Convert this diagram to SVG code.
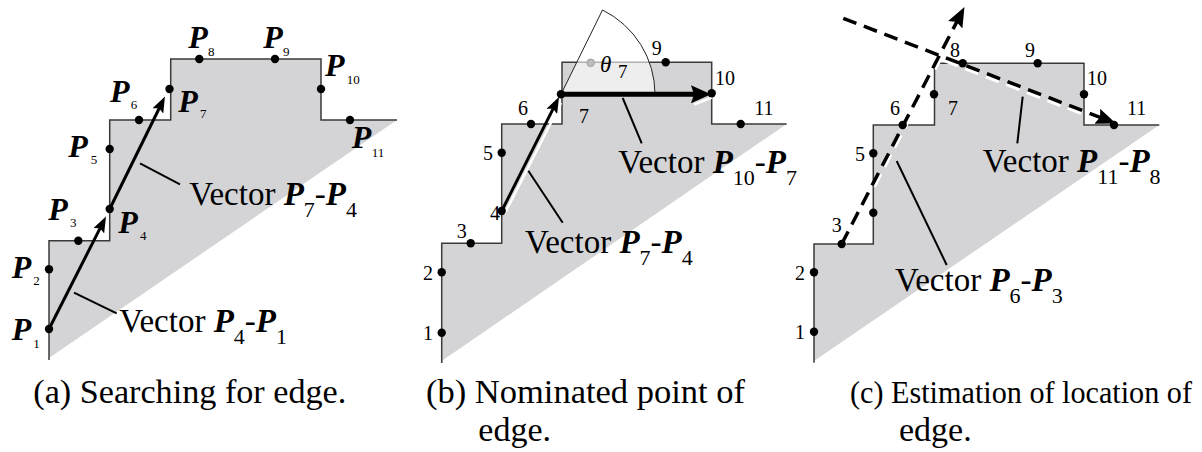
<svg xmlns="http://www.w3.org/2000/svg" width="1202" height="452" viewBox="0 0 1202 452" font-family="Liberation Serif, Times New Roman, serif">
<style>
.fill{fill:#d4d4d6;stroke:none}
.outl{fill:none;stroke:#3a3a3a;stroke-width:1.5}
.dot{fill:#000}
.lead{stroke:#000;stroke-width:2;fill:none}
.arr{stroke:#000;stroke-width:3;fill:none}
.arrb{stroke:#000;stroke-width:5;fill:none}
.hl{stroke:#fff;stroke-width:2.5;fill:none}
.dash{stroke:#000;stroke-width:3.5;fill:none;stroke-dasharray:14 8}
.dashw{stroke:#fff;stroke-width:3.5;fill:none;stroke-dasharray:14 8}
.t{font-family:'Liberation Serif','Times New Roman',serif;fill:#000}
.bi{font-weight:bold;font-style:italic}
.pl{font-size:32px;font-weight:bold;font-style:italic}
.ps{font-size:13px}
.num{font-size:20px;text-anchor:middle}
.vec{font-size:33px}
.vs{font-size:22px}
.cap{font-size:34px}
</style>
<defs>
<marker id="ah" markerUnits="userSpaceOnUse" markerWidth="18" markerHeight="12" refX="10" refY="6" orient="auto"><path d="M0,0 L16,6 L0,12 L3,6 Z" fill="#000"/></marker>
<marker id="ahb" markerUnits="userSpaceOnUse" markerWidth="21" markerHeight="18" refX="12" refY="9" orient="auto"><path d="M0,0 L20,9 L0,18 L3,9 Z" fill="#000"/></marker>
<marker id="ahd" markerUnits="userSpaceOnUse" markerWidth="21" markerHeight="16" refX="12" refY="8" orient="auto"><path d="M0,0 L20,8 L0,16 L3,8 Z" fill="#000"/></marker>
</defs>

<g id="panel-a-shape">
<path class="fill" d="M49,358 V240.7 H109.7 V120 H170.7 V59 H321 V120 H397 Z"/>
<path class="outl" d="M49,360 V240.7 H109.7 V120 H170.7 V59 H321 V120 H397"/>
</g>
<g id="panel-b-shape">
<path class="fill" d="M441.7,361 V243.3 H501.7 V124 H562 V62.3 H711.7 V124 H786.7 Z"/>
<path class="outl" d="M441.7,363 V243.3 H501.7 V124 H562 V62.3 H711.7 V124 H786.7"/>
<path id="sector-theta" d="M561,94.3 L602.5,10 A94,94 0 0 1 655,94.3 Z" fill="#fff" fill-opacity="0.6" stroke="#222" stroke-width="1"/>
</g>
<g id="panel-c-shape">
<path class="fill" d="M814,361 V244 H873.3 V125 H934.5 V63.3 H1084 V125 H1159.3 Z"/>
<path class="outl" d="M814,362.7 V244 H873.3 V125 H934.5 V63.3 H1084 V125 H1159.3"/>
</g>

<g id="connectors">
<line class="arr" x1="49" y1="329" x2="103.3" y2="221.9" marker-end="url(#ah)"/>
<line class="arr" x1="109.7" y1="209" x2="162.3" y2="102" marker-end="url(#ah)"/>
<line class="lead" x1="140" y1="163.3" x2="180" y2="184.3"/>
<line class="lead" x1="74" y1="292.7" x2="116.7" y2="313.3"/>
<line class="hl" x1="504.5" y1="214" x2="561" y2="103"/>
<line class="hl" x1="694" y1="104.5" x2="712" y2="97.5"/>
<line class="arr" x1="501.7" y1="211" x2="556.3" y2="102.4" marker-end="url(#ah)"/>
<line class="arrb" x1="561" y1="94.3" x2="703" y2="94.3" marker-end="url(#ahb)"/>
<line class="lead" x1="622.7" y1="98" x2="641.7" y2="143.3"/>
<line class="lead" x1="528.3" y1="170.7" x2="562.7" y2="222.7"/>
<line class="dashw" x1="842.2" y1="21.1" x2="1107.4" y2="123.4"/>
<line class="dashw" x1="843.9" y1="245.2" x2="963" y2="15.3"/>
<line class="dash" x1="843.3" y1="18.3" x2="1108.5" y2="120.6" marker-end="url(#ahd)"/>
<line class="dash" x1="841.7" y1="244" x2="960.8" y2="14.1" marker-end="url(#ahd)"/>
<line class="lead" x1="1022.7" y1="96.7" x2="1017.3" y2="143.3"/>
<line class="lead" x1="896.7" y1="161" x2="946.7" y2="265"/>
</g>

<g id="a-P1"><circle class="dot" cx="49" cy="329" r="4.2"/><text x="11.7" y="340" class="t pl">P</text><text x="33.3" y="348.3" class="t ps">1</text></g>
<g id="a-P2"><circle class="dot" cx="49" cy="269.3" r="4.2"/><text x="11.7" y="278.3" class="t pl">P</text><text x="33.3" y="285" class="t ps">2</text></g>
<g id="a-P3"><circle class="dot" cx="78.3" cy="240.7" r="4.2"/><text x="48.3" y="220" class="t pl">P</text><text x="70" y="227.3" class="t ps">3</text></g>
<g id="a-P4"><circle class="dot" cx="109.7" cy="209" r="4.2"/><text x="118.3" y="233.3" class="t pl">P</text><text x="140" y="240" class="t ps">4</text></g>
<g id="a-P5"><circle class="dot" cx="109.7" cy="149" r="4.2"/><text x="68.3" y="156.7" class="t pl">P</text><text x="90.7" y="164" class="t ps">5</text></g>
<g id="a-P6"><circle class="dot" cx="139" cy="120" r="4.2"/><text x="110" y="101.7" class="t pl">P</text><text x="130.7" y="109" class="t ps">6</text></g>
<g id="a-P7"><circle class="dot" cx="169.5" cy="89" r="4.2"/><text x="178.3" y="111.7" class="t pl">P</text><text x="200" y="118.3" class="t ps">7</text></g>
<g id="a-P8"><circle class="dot" cx="199.3" cy="59" r="4.2"/><text x="188.3" y="48.3" class="t pl">P</text><text x="208" y="56" class="t ps">8</text></g>
<g id="a-P9"><circle class="dot" cx="275" cy="59" r="4.2"/><text x="263.3" y="48" class="t pl">P</text><text x="283" y="56" class="t ps">9</text></g>
<g id="a-P10"><circle class="dot" cx="321" cy="89" r="4.2"/><text x="325" y="76" class="t pl">P</text><text x="346.7" y="84" class="t ps">10</text></g>
<g id="a-P11"><circle class="dot" cx="350" cy="120" r="4.2"/><text x="351.7" y="148.3" class="t pl">P</text><text x="371.7" y="157" class="t ps">11</text></g>

<g id="b-1"><circle class="dot" cx="441.7" cy="332.7" r="4.2"/><text x="428" y="339.5" class="t num">1</text></g>
<g id="b-2"><circle class="dot" cx="441.7" cy="272.3" r="4.2"/><text x="428" y="279.5" class="t num">2</text></g>
<g id="b-3"><circle class="dot" cx="470.7" cy="243.3" r="4.2"/><text x="461.7" y="238" class="t num">3</text></g>
<g id="b-4"><circle class="dot" cx="501.7" cy="211" r="4.2"/><text x="495" y="220" class="t num">4</text></g>
<g id="b-5"><circle class="dot" cx="501.7" cy="152.7" r="4.2"/><text x="488" y="159.5" class="t num">5</text></g>
<g id="b-6"><circle class="dot" cx="531" cy="124" r="4.2"/><text x="523" y="115" class="t num">6</text></g>
<g id="b-7"><circle class="dot" cx="561" cy="94.3" r="4.2"/><text x="584" y="123.3" class="t num">7</text></g>
<g id="b-8"><circle cx="590.7" cy="62.8" r="3.8" fill="#bdbdbd" stroke="#a0a0a0" stroke-width="1"/><text x="600" y="71.7" class="t" font-size="23" font-style="italic">θ</text><text x="618" y="78.3" class="t" font-size="19">7</text></g>
<g id="b-9"><circle class="dot" cx="665.7" cy="62.3" r="4.2"/><text x="656.7" y="55" class="t num">9</text></g>
<g id="b-10"><circle class="dot" cx="711.7" cy="93.3" r="4.2"/><text x="725" y="85" class="t num">10</text></g>
<g id="b-11"><circle class="dot" cx="740.7" cy="124" r="4.2"/><text x="764" y="115" class="t num">11</text></g>

<g id="c-1"><circle class="dot" cx="814" cy="331.7" r="4.2"/><text x="800" y="339" class="t num">1</text></g>
<g id="c-2"><circle class="dot" cx="814" cy="272.3" r="4.2"/><text x="800" y="279.5" class="t num">2</text></g>
<g id="c-3"><circle class="dot" cx="841.7" cy="244" r="4.2"/><text x="836.7" y="231.7" class="t num">3</text></g>
<g id="c-4"><circle class="dot" cx="873.3" cy="212.7" r="4.2"/></g>
<g id="c-5"><circle class="dot" cx="873.3" cy="153.3" r="4.2"/><text x="860" y="161" class="t num">5</text></g>
<g id="c-6"><circle class="dot" cx="902.7" cy="125" r="4.2"/><text x="895" y="115" class="t num">6</text></g>
<g id="c-7"><circle class="dot" cx="934" cy="94.3" r="4.2"/><text x="953" y="115" class="t num">7</text></g>
<g id="c-8"><circle class="dot" cx="962.7" cy="63.3" r="4.2"/><text x="955" y="56.7" class="t num">8</text></g>
<g id="c-9"><circle class="dot" cx="1037.7" cy="63.3" r="4.2"/><text x="1030" y="56.5" class="t num">9</text></g>
<g id="c-10"><circle class="dot" cx="1084" cy="94.3" r="4.2"/><text x="1097" y="85" class="t num">10</text></g>
<g id="c-11"><circle class="dot" cx="1114" cy="125" r="4.2"/><text x="1136.7" y="115" class="t num">11</text></g>

<g id="labels">
<text x="189.3" y="205" class="t vec">Vector <tspan class="bi">P</tspan><tspan class="vs" dy="12">7</tspan><tspan dy="-12">-</tspan><tspan class="bi">P</tspan><tspan class="vs" dy="12">4</tspan></text>
<text x="119.3" y="331.7" class="t vec">Vector <tspan class="bi">P</tspan><tspan class="vs" dy="12">4</tspan><tspan dy="-12">-</tspan><tspan class="bi">P</tspan><tspan class="vs" dy="12">1</tspan></text>
<text x="618.3" y="173.3" class="t vec">Vector <tspan class="bi">P</tspan><tspan class="vs" dy="12">10</tspan><tspan dy="-12">-</tspan><tspan class="bi">P</tspan><tspan class="vs" dy="12">7</tspan></text>
<text x="525" y="253.3" class="t vec">Vector <tspan class="bi">P</tspan><tspan class="vs" dy="12">7</tspan><tspan dy="-12">-</tspan><tspan class="bi">P</tspan><tspan class="vs" dy="12">4</tspan></text>
<text x="982.7" y="172" class="t vec">Vector <tspan class="bi">P</tspan><tspan class="vs" dy="12">11</tspan><tspan dy="-12">-</tspan><tspan class="bi">P</tspan><tspan class="vs" dy="12">8</tspan></text>
<text x="895" y="290.7" class="t vec">Vector <tspan class="bi">P</tspan><tspan class="vs" dy="12">6</tspan><tspan dy="-12">-</tspan><tspan class="bi">P</tspan><tspan class="vs" dy="12">3</tspan></text>
</g>

<g id="captions">
<text x="33.3" y="402.7" class="t cap" textLength="313" lengthAdjust="spacingAndGlyphs">(a) Searching for edge.</text>
<text x="426" y="402.7" class="t cap" textLength="319" lengthAdjust="spacingAndGlyphs">(b) Nominated point of</text>
<text x="478.3" y="440.7" class="t cap">edge.</text>
<text x="850" y="402.7" class="t cap" font-size="30.5" style="font-size:30.5px" textLength="342" lengthAdjust="spacingAndGlyphs">(c) Estimation of location of</text>
<text x="899" y="440.7" class="t cap">edge.</text>
</g>
</svg>
